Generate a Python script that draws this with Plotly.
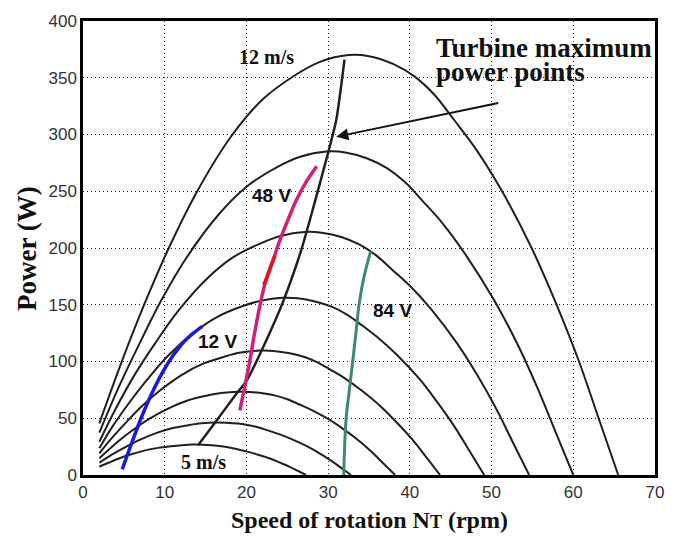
import plotly.graph_objects as go

# ---- Turbine power curves, one per wind speed ----
N_12 = [2, 4.8, 7.6, 10.5, 13.9, 18.1, 22, 25.9, 29, 32.5, 35, 38, 40.6, 43, 45.4, 48, 51.2, 54.9, 57.9, 60.7, 63.1, 65.5]
P_12 = [45.5, 101, 152, 200, 249, 298, 331, 352, 364, 370, 369, 362, 351, 335, 313, 288, 251, 200, 151, 100, 50, 0]
N_11 = [2, 4.4, 7.0, 9.6, 12.7, 16.6, 20.2, 23.7, 26.6, 29.8, 32.1, 34.8, 37.2, 39.4, 41.6, 44.0, 46.9, 50.3, 53.1, 55.6, 57.8, 60.0]
P_11 = [37.3, 77.8, 117.1, 154.1, 191.8, 229.5, 255.0, 271.1, 280.4, 285.0, 284.2, 278.9, 270.4, 258.1, 241.1, 221.8, 193.3, 154.1, 116.3, 77.0, 38.5, 0]
N_10 = [2, 4.0, 6.3, 8.8, 11.6, 15.1, 18.3, 21.6, 24.2, 27.1, 29.2, 31.7, 33.8, 35.8, 37.8, 40.0, 42.7, 45.8, 48.3, 50.6, 52.6, 54.6]
P_10 = [29.3, 58.4, 88.0, 115.7, 144.1, 172.5, 191.5, 203.7, 210.6, 214.1, 213.5, 209.5, 203.1, 193.9, 181.1, 166.7, 145.3, 115.7, 87.4, 57.9, 28.9, 0]
N_9 = [2, 3.6, 5.7, 7.9, 10.4, 13.6, 16.5, 19.4, 21.8, 24.4, 26.3, 28.5, 30.5, 32.3, 34.1, 36.0, 38.4, 41.2, 43.4, 45.5, 47.3, 49.1]
P_9 = [23.5, 42.6, 64.1, 84.4, 105.1, 125.7, 139.6, 148.5, 153.6, 156.1, 155.7, 152.7, 148.1, 141.3, 132.1, 121.5, 105.9, 84.4, 63.7, 42.2, 21.1, 0]
N_8 = [2, 3.2, 5.1, 7.0, 9.3, 12.1, 14.7, 17.3, 19.3, 21.7, 23.3, 25.3, 27.1, 28.7, 30.3, 32.0, 34.1, 36.6, 38.6, 40.5, 42.1, 43.7]
P_8 = [19.1, 29.9, 45.0, 59.3, 73.8, 88.3, 98.1, 104.3, 107.9, 109.6, 109.3, 107.3, 104.0, 99.3, 92.7, 85.3, 74.4, 59.3, 44.7, 29.6, 14.8, 0]
N_7 = [2, 2.8, 4.4, 6.1, 8.1, 10.6, 12.8, 15.1, 16.9, 19.0, 20.4, 22.2, 23.7, 25.1, 26.5, 28.0, 29.9, 32.0, 33.8, 35.4, 36.8, 38.2]
P_7 = [14.7, 20.0, 30.2, 39.7, 49.4, 59.2, 65.7, 69.9, 72.3, 73.4, 73.2, 71.9, 69.7, 66.5, 62.1, 57.2, 49.8, 39.7, 30.0, 19.9, 9.9, 0]
N_6 = [2, 3.8, 5.3, 7.0, 9.1, 11.0, 13.0, 14.5, 16.3, 17.5, 19.0, 20.3, 21.5, 22.7, 24.0, 25.6, 27.5, 29.0, 30.4, 31.6, 32.8]
P_6 = [10.9, 19.0, 25.0, 31.1, 37.3, 41.4, 44.0, 45.5, 46.3, 46.1, 45.3, 43.9, 41.9, 39.1, 36.0, 31.4, 25.0, 18.9, 12.5, 6.3, 0]
N_5 = [2, 3.2, 4.4, 5.8, 7.5, 9.2, 10.8, 12.1, 13.5, 14.6, 15.8, 16.9, 17.9, 18.9, 20.0, 21.3, 22.9, 24.1, 25.3, 26.3, 27.3]
P_5 = [7.3, 11.0, 14.5, 18.0, 21.5, 23.9, 25.4, 26.3, 26.8, 26.7, 26.2, 25.4, 24.2, 22.6, 20.8, 18.1, 14.5, 10.9, 7.2, 3.6, 0]

# ---- Turbine maximum power points ----
N_mpp = [14.1, 16.1, 18.5, 20.1, 22.2, 24.5, 26.7, 28.2, 30.0, 31.0, 32.0]
P_mpp = [26.4, 45.5, 69, 84, 115, 153, 198, 236, 284, 313, 366]

# ---- Generator load lines (battery voltages) ----
N_12V = [4.8, 5.8, 7.0, 8.3, 9.7, 11.0, 12.3, 13.5, 14.6]
P_12V = [5, 25, 48, 70, 90, 105, 117, 125, 131]
N_48V = [19.2, 19.8, 20.4, 21.0, 21.7, 22.4, 23.2, 24.1, 25.1, 26.1, 27.3, 28.6]
P_48V = [57, 78, 100, 125, 151, 172, 188, 207, 225, 242, 258, 272]
N_48V_red = [22.1, 22.4, 23.2, 23.5]
P_48V_red = [168, 172, 188, 193]
N_84V = [31.9, 32.2, 32.6, 33.0, 33.4, 33.8, 34.4, 35.2]
P_84V = [0, 50, 75, 100, 125, 151, 175, 197]

x_ticks = [0, 10, 20, 30, 40, 50, 60, 70]
y_ticks = [0, 50, 100, 150, 200, 250, 300, 350, 400]

CURVE = "#231f1c"
fig = go.Figure()

for N, P in [(N_5, P_5), (N_6, P_6), (N_7, P_7), (N_8, P_8),
             (N_9, P_9), (N_10, P_10), (N_11, P_11), (N_12, P_12)]:
    fig.add_trace(go.Scatter(x=N, y=P, mode="lines", line=dict(color=CURVE, width=2, shape="spline", smoothing=1.0),
                             showlegend=False, hoverinfo="skip"))

fig.add_trace(go.Scatter(x=N_mpp, y=P_mpp, mode="lines", line=dict(color=CURVE, width=2.5, shape="spline", smoothing=0.6),
                         showlegend=False, hoverinfo="skip"))
fig.add_trace(go.Scatter(x=N_12V, y=P_12V, mode="lines", line=dict(color="#1a1ad8", width=3.5, shape="spline"),
                         showlegend=False, hoverinfo="skip"))
fig.add_trace(go.Scatter(x=N_48V, y=P_48V, mode="lines", line=dict(color="#d0207c", width=3.5, shape="spline"),
                         showlegend=False, hoverinfo="skip"))
fig.add_trace(go.Scatter(x=N_48V_red, y=P_48V_red, mode="lines", line=dict(color="#e0141e", width=3.5, shape="spline"),
                         showlegend=False, hoverinfo="skip"))
fig.add_trace(go.Scatter(x=N_84V, y=P_84V, mode="lines", line=dict(color="#3d8b6b", width=3, shape="spline"),
                         showlegend=False, hoverinfo="skip"))

SERIF = "Liberation Serif"
SANS = "Liberation Sans"

annotations = [
    dict(x=22.5, y=368, text="<b>12 m/s</b>", font=dict(family=SERIF, size=20, color="#111")),
    dict(x=14.7, y=11.7, text="<b>5 m/s</b>", font=dict(family=SERIF, size=20, color="#111")),
    dict(x=23.1, y=246.7, text="<b>48 V</b>", font=dict(family=SANS, size=19, color="#111")),
    dict(x=16.5, y=118, text="<b>12 V</b>", font=dict(family=SANS, size=19, color="#111")),
    dict(x=37.9, y=144.7, text="<b>84 V</b>", font=dict(family=SANS, size=19, color="#111")),
    dict(x=43.0, y=376, text="<b>Turbine maximum</b>", xanchor="left", font=dict(family=SERIF, size=27, color="#111")),
    dict(x=43.0, y=355, text="<b>power points</b>", xanchor="left", font=dict(family=SERIF, size=27, color="#111")),
]
for a in annotations:
    a.update(xref="x", yref="y", showarrow=False)
    fig.add_annotation(**a)

# arrow pointing to the maximum power point curve
fig.add_annotation(x=31, y=298, ax=51, ay=328, xref="x", yref="y", axref="x", ayref="y",
                   text="", showarrow=True, arrowhead=2, arrowsize=1.2, arrowwidth=2, arrowcolor="#111")

# axis titles
fig.add_annotation(x=0.5, y=-0.099, xref="paper", yref="paper", showarrow=False,
                   xanchor="center", yanchor="middle",
                   text="<b>Speed of rotation N<span style='font-size:18px'>T</span> (rpm)</b>",
                   font=dict(family=SERIF, size=24, color="#111"))
fig.add_annotation(x=-0.098, y=0.5, xref="paper", yref="paper", showarrow=False, textangle=-90,
                   xanchor="center", yanchor="middle",
                   text="<b>Power (W)</b>", font=dict(family=SERIF, size=27, color="#111"))

axis_common = dict(showgrid=True, gridcolor="#222", griddash="1px,3px", gridwidth=1, zeroline=False,
                   showline=True, linecolor="black", linewidth=2.5, mirror=True, ticks="",
                   tickfont=dict(family=SANS, size=17, color="#333"))
fig.update_xaxes(range=[0, 70], tickvals=x_ticks, **axis_common)
fig.update_yaxes(range=[0, 400], tickvals=y_ticks, **axis_common)

fig.update_layout(width=675, height=536, margin=dict(l=83, r=11, t=21, b=61),
                  plot_bgcolor="white", paper_bgcolor="white")

# remove the browser's default 8 px page margin so the figure fills the window; hide the mode bar
fig.write_html("out.html", config={"displayModeBar": False},
               post_script="document.body.style.margin='0';")
